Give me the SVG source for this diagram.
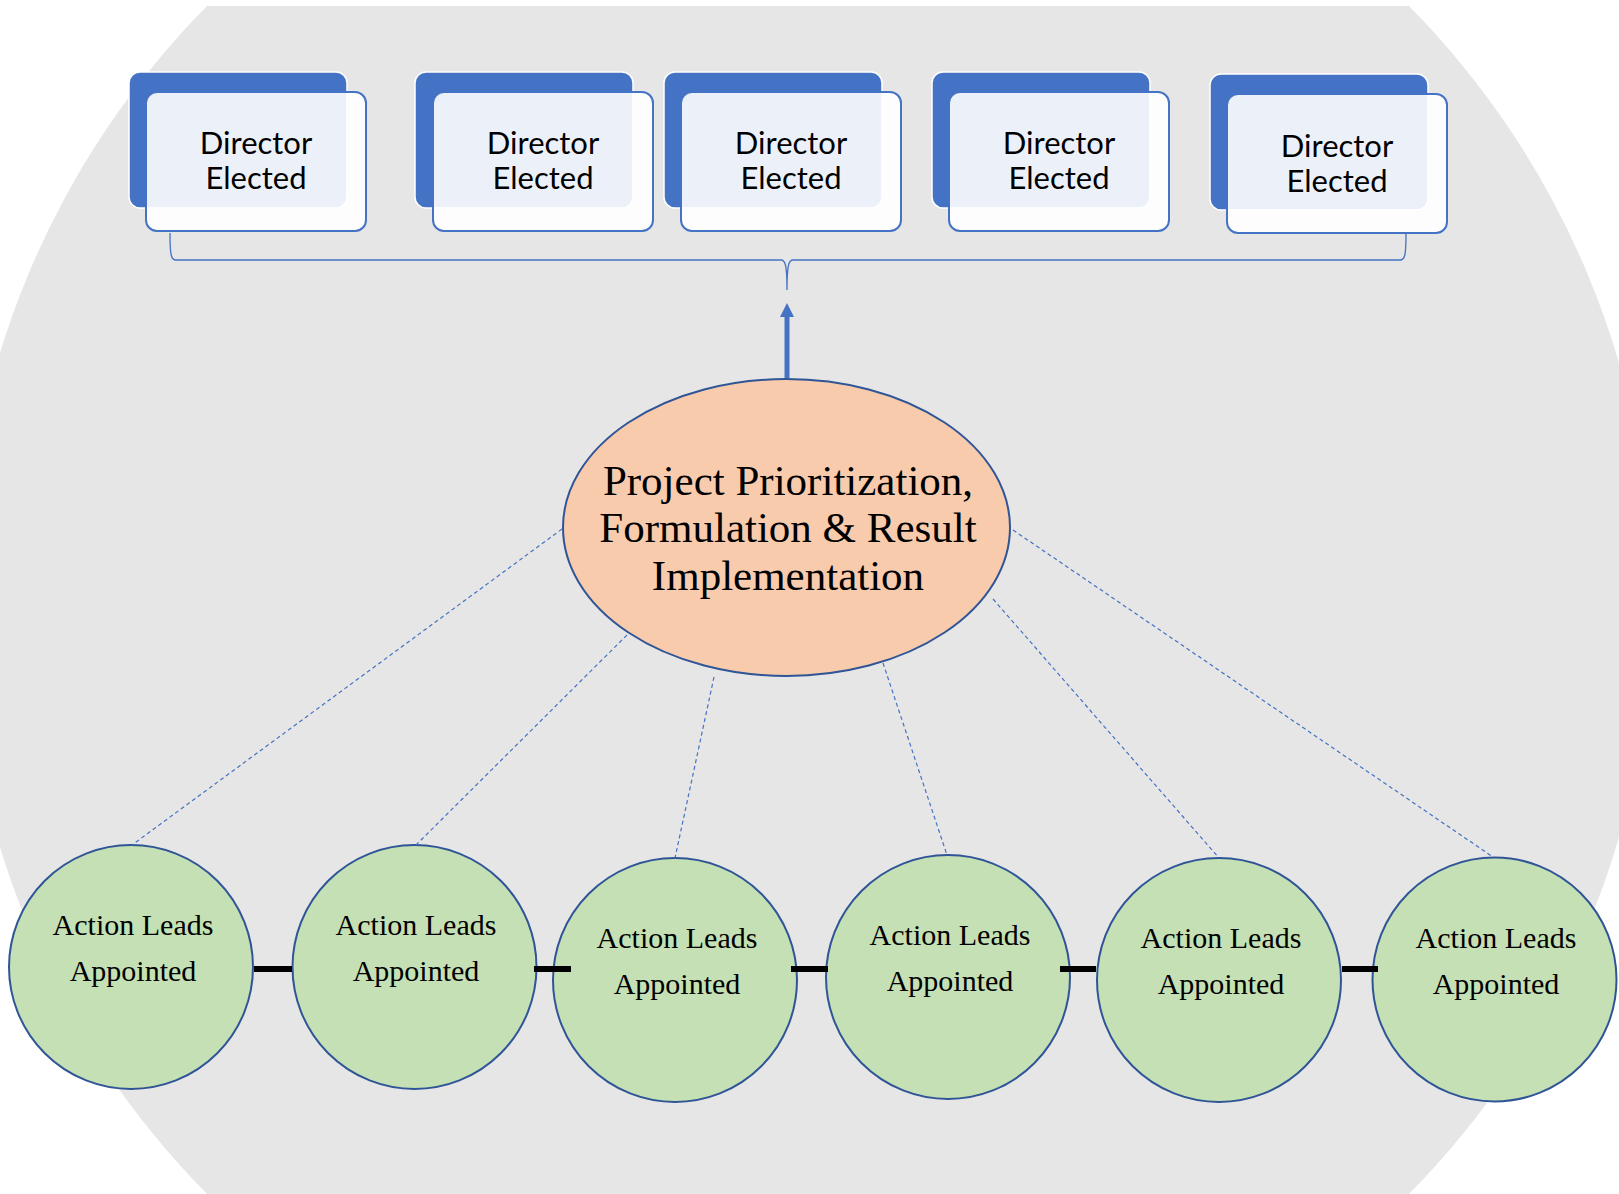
<svg xmlns="http://www.w3.org/2000/svg" width="1619" height="1194" viewBox="0 0 1619 1194">
<defs>
<style>
.back{fill:#4472C4;stroke:#FFFFFF;stroke-width:1.5}
.front{fill:#FFFFFF;fill-opacity:0.9;stroke:#4472C4;stroke-width:2}
.dt{font-family:Lato,"Open Sans","Liberation Sans",sans-serif;font-size:31px;fill:#000;text-anchor:middle}
.et{font-family:"Liberation Serif","Times New Roman",serif;font-size:43px;fill:#000;text-anchor:middle}
.ct{font-family:"Liberation Serif","Times New Roman",serif;font-size:30px;fill:#000;text-anchor:middle}
.lead{fill:#C5E0B4;stroke:#2F5597;stroke-width:2}
.dash{stroke:#4472C4;stroke-width:1.2;stroke-dasharray:4 3;fill:none}
.bar{stroke:#000;stroke-width:6}
</style>
<clipPath id="clipTop"><rect x="0" y="6" width="1619" height="1188"/></clipPath>
</defs>
<rect x="0" y="0" width="1619" height="1194" fill="#FFFFFF"/>
<g id="background" clip-path="url(#clipTop)">
<circle cx="808" cy="600" r="845" fill="#E7E6E6"/>
</g>

<g id="director1">
<rect class="back" x="129" y="72" width="218" height="136" rx="11"/>
<rect class="front" x="146" y="92" width="220" height="139" rx="11"/>
<text class="dt" x="256" y="154">Director</text>
<text class="dt" x="256" y="189">Elected</text>
</g>
<g id="director2">
<rect class="back" x="415" y="72" width="218" height="136" rx="11"/>
<rect class="front" x="433" y="92" width="220" height="139" rx="11"/>
<text class="dt" x="543" y="154">Director</text>
<text class="dt" x="543" y="189">Elected</text>
</g>
<g id="director3">
<rect class="back" x="664" y="72" width="218" height="136" rx="11"/>
<rect class="front" x="681" y="92" width="220" height="139" rx="11"/>
<text class="dt" x="791" y="154">Director</text>
<text class="dt" x="791" y="189">Elected</text>
</g>
<g id="director4">
<rect class="back" x="932" y="72" width="218" height="136" rx="11"/>
<rect class="front" x="949" y="92" width="220" height="139" rx="11"/>
<text class="dt" x="1059" y="154">Director</text>
<text class="dt" x="1059" y="189">Elected</text>
</g>
<g id="director5">
<rect class="back" x="1210" y="74" width="218" height="136" rx="11"/>
<rect class="front" x="1227" y="94" width="220" height="139" rx="11"/>
<text class="dt" x="1337" y="157">Director</text>
<text class="dt" x="1337" y="192">Elected</text>
</g>

<g id="project">
<ellipse cx="786.5" cy="527.5" rx="223.5" ry="148.5" fill="#F8CBAD" stroke="#2F5597" stroke-width="2"/>
<text class="et" x="788" y="495">Project Prioritization,</text>
<text class="et" x="788" y="542">Formulation &amp; Result</text>
<text class="et" x="788" y="590">Implementation</text>
</g>

<g id="lead1">
<circle class="lead" cx="131" cy="967" r="122"/>
<text class="ct" x="133" y="935">Action Leads</text>
<text class="ct" x="133" y="981">Appointed</text>
</g>
<g id="lead2">
<circle class="lead" cx="414.5" cy="967" r="122"/>
<text class="ct" x="416" y="935">Action Leads</text>
<text class="ct" x="416" y="981">Appointed</text>
</g>
<g id="lead3">
<circle class="lead" cx="675" cy="980" r="122"/>
<text class="ct" x="677" y="948">Action Leads</text>
<text class="ct" x="677" y="994">Appointed</text>
</g>
<g id="lead4">
<circle class="lead" cx="948" cy="977" r="122"/>
<text class="ct" x="950" y="945">Action Leads</text>
<text class="ct" x="950" y="991">Appointed</text>
</g>
<g id="lead5">
<circle class="lead" cx="1219" cy="980" r="122"/>
<text class="ct" x="1221" y="948">Action Leads</text>
<text class="ct" x="1221" y="994">Appointed</text>
</g>
<g id="lead6">
<circle class="lead" cx="1494.5" cy="979.5" r="122"/>
<text class="ct" x="1496" y="948">Action Leads</text>
<text class="ct" x="1496" y="994">Appointed</text>
</g>

<g id="connectors">
<path d="M170,233 C170,255 171,260 176,260 L781,260 C785,260 787,264 787,290 C787,264 789,260 793,260 L1400,260 C1405,260 1406,255 1406,233" fill="none" stroke="#4472C4" stroke-width="1.3"/>
<line x1="787" y1="378" x2="787" y2="314" stroke="#4472C4" stroke-width="5"/>
<polygon points="787,303 780,317 794,317" fill="#4472C4"/>
<line class="dash" x1="562" y1="529" x2="132" y2="845"/>
<line class="dash" x1="627" y1="635" x2="416" y2="845"/>
<line class="dash" x1="714" y1="677" x2="675" y2="858"/>
<line class="dash" x1="883" y1="663" x2="947" y2="855"/>
<line class="dash" x1="993" y1="599" x2="1219" y2="858"/>
<line class="dash" x1="1013" y1="530" x2="1493" y2="857"/>
<line class="bar" x1="254" y1="969" x2="292" y2="969"/>
<line class="bar" x1="534" y1="969" x2="571" y2="969"/>
<line class="bar" x1="791" y1="969" x2="828" y2="969"/>
<line class="bar" x1="1060" y1="969" x2="1096" y2="969"/>
<line class="bar" x1="1342" y1="969" x2="1378" y2="969"/>
</g>
</svg>
